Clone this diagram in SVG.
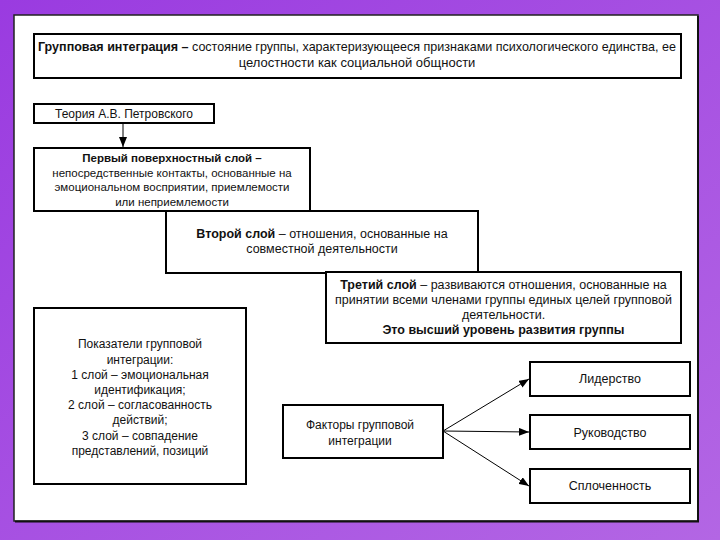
<svg xmlns="http://www.w3.org/2000/svg" width="720" height="540" viewBox="0 0 720 540">
<defs>
<linearGradient id="bg" x1="0" y1="0" x2="1" y2="1">
<stop offset="0" stop-color="#9a3be0"/>
<stop offset="1" stop-color="#b366e4"/>
</linearGradient>
<marker id="ah" viewBox="0 0 10 8" refX="10" refY="4" markerWidth="10" markerHeight="8" markerUnits="userSpaceOnUse" orient="auto">
<path d="M0,0 L10,4 L0,8 z" fill="#000"/>
</marker>
<style>
.box{fill:#fff;stroke:#000;stroke-width:2}
text{font-family:"Liberation Sans",Arial,sans-serif;font-size:12px;fill:#111;text-anchor:middle}
.b{font-weight:bold}
.t{font-size:13px}
.s{font-size:11.5px}
.m{font-size:12.5px}
.c{stroke:#000;stroke-width:1;fill:none}
</style>
</defs>
<rect x="0" y="0" width="720" height="540" fill="url(#bg)"/>
<rect x="14" y="15" width="684" height="506" fill="#fff" stroke="#222" stroke-width="1.5"/>
<line x1="698" y1="16" x2="698" y2="522" stroke="#111" stroke-width="2"/>
<line x1="15" y1="521.5" x2="699" y2="521.5" stroke="#111" stroke-width="2"/>

<g id="title">
<rect class="box" x="34" y="34" width="647" height="44"/>
<text class="t" x="357" y="51" textLength="638" lengthAdjust="spacingAndGlyphs"><tspan class="b">Групповая интеграция –</tspan> состояние группы, характеризующееся признаками психологического единства, ее</text>
<text class="t" x="357" y="67">целостности как социальной общности</text>
</g>

<g id="theory">
<rect class="box" x="34" y="104" width="180" height="19"/>
<text x="124" y="117.5">Теория А.В. Петровского</text>
</g>

<g id="layer1">
<rect class="box" x="34" y="148" width="276" height="63"/>
<text class="b s" x="172" y="162">Первый поверхностный слой –</text>
<text class="s" x="172" y="176.5">непосредственные контакты, основанные на</text>
<text class="s" x="172" y="191">эмоциональном восприятии, приемлемости</text>
<text class="s" x="172" y="205.5">или неприемлемости</text>
</g>

<g id="layer2">
<rect class="box" x="166" y="211" width="312" height="62"/>
<text class="m" x="322" y="238"><tspan class="b">Второй слой</tspan> – отношения, основанные на</text>
<text class="m" x="322" y="253">совместной деятельности</text>
</g>

<g id="layer3">
<rect class="box" x="326" y="272" width="355" height="71"/>
<text class="m" x="503.5" y="289"><tspan class="b">Третий слой</tspan> – развиваются отношения, основанные на</text>
<text class="m" x="503.5" y="304">принятии всеми членами группы единых целей групповой</text>
<text class="m" x="503.5" y="319">деятельности.</text>
<text class="m b" x="503.5" y="334">Это высший уровень развития группы</text>
</g>

<g id="indicators">
<rect class="box" x="34" y="308" width="212" height="176"/>
<text x="140" y="348">Показатели групповой</text>
<text x="140" y="364">интеграции:</text>
<text x="140" y="379">1 слой – эмоциональная</text>
<text x="140" y="394">идентификация;</text>
<text x="140" y="409">2 слой – согласованность</text>
<text x="140" y="424">действий;</text>
<text x="140" y="440">3 слой – совпадение</text>
<text x="140" y="455">представлений, позиций</text>
</g>

<g id="factors">
<rect class="box" x="283" y="405" width="160" height="53"/>
<text x="360" y="429">Факторы групповой</text>
<text x="360" y="445">интеграции</text>
</g>

<g id="leadership">
<rect class="box" x="530" y="362" width="160" height="34"/>
<text class="m" x="610" y="383">Лидерство</text>
</g>

<g id="management">
<rect class="box" x="530" y="415" width="160" height="34"/>
<text class="m" x="610" y="437">Руководство</text>
</g>

<g id="cohesion">
<rect class="box" x="530" y="469" width="160" height="34"/>
<text class="m" x="610" y="490">Сплоченность</text>
</g>

<g id="connectors">
<line class="c" x1="123" y1="123" x2="123" y2="147" marker-end="url(#ah)"/>
<line class="c" x1="443" y1="431" x2="529" y2="379" marker-end="url(#ah)"/>
<line class="c" x1="443" y1="431" x2="529" y2="432" marker-end="url(#ah)"/>
<line class="c" x1="443" y1="431" x2="529" y2="486" marker-end="url(#ah)"/>
</g>
</svg>
